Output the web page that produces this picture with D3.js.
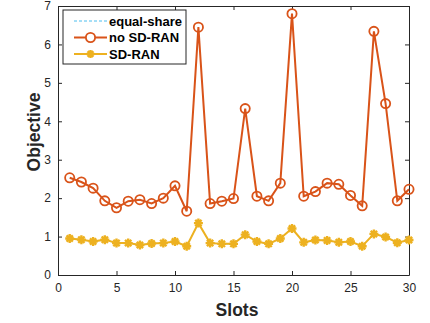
<!DOCTYPE html>
<html>
<head>
<meta charset="utf-8">
<script src="https://cdn.jsdelivr.net/npm/d3@7"></script>
<style>
  body { margin: 0; background: #fff; }
  text { font-family: "Liberation Sans", Arial, sans-serif; }
</style>
</head>
<body>
<div id="chart"></div>
<script>
// Data
const slots = d3.range(1, 31);
const noSdRan = [2.53, 2.42, 2.26, 1.93, 1.75, 1.92, 1.96, 1.86, 2.0, 2.32,
                 1.66, 6.45, 1.86, 1.92, 1.99, 4.33, 2.05, 1.93, 2.39, 6.8,
                 2.05, 2.17, 2.39, 2.36, 2.07, 1.8, 6.34, 4.46, 1.93, 2.23];
const sdRan = [0.95, 0.92, 0.87, 0.92, 0.83, 0.83, 0.78, 0.82, 0.83, 0.87,
               0.75, 1.35, 0.83, 0.81, 0.81, 1.05, 0.87, 0.81, 0.95, 1.21,
               0.85, 0.91, 0.9, 0.85, 0.87, 0.75, 1.07, 0.99, 0.84, 0.91];
const equalShare = sdRan.slice(); // hidden under SD-RAN in the figure
const xTicks = [0, 5, 10, 15, 20, 25, 30];
const yTicks = [0, 1, 2, 3, 4, 5, 6, 7];

const W = 430, H = 323;
const margin = { top: 6, right: 21, bottom: 48, left: 58 };
const width = W - margin.left - margin.right;
const height = H - margin.top - margin.bottom;

const svg = d3.select("#chart").append("svg")
  .attr("width", W).attr("height", H);
const g = svg.append("g")
  .attr("transform", `translate(${margin.left}, ${margin.top})`);

const x = d3.scaleLinear().domain([0, 30]).range([0, width]);
const y = d3.scaleLinear().domain([0, 7]).range([height, 0]);

const axisColor = "#262626";
const fmt = d3.format("d");

// Axes (MATLAB style: ticks inside, box)
const xAxis = g.append("g").attr("transform", `translate(0, ${height})`)
  .call(d3.axisBottom(x).tickValues(xTicks).tickFormat(fmt).tickSizeInner(-4).tickSizeOuter(0).tickPadding(8));
const yAxis = g.append("g")
  .call(d3.axisLeft(y).tickValues(yTicks).tickFormat(fmt).tickSizeInner(-4).tickSizeOuter(0).tickPadding(7));
const xTop = g.append("g")
  .call(d3.axisTop(x).tickValues(xTicks).tickSizeInner(-4).tickSizeOuter(0).tickFormat(""));
const yRight = g.append("g").attr("transform", `translate(${width}, 0)`)
  .call(d3.axisRight(y).tickValues(yTicks).tickSizeInner(-4).tickSizeOuter(0).tickFormat(""));

[xAxis, yAxis, xTop, yRight].forEach(a => {
  a.select(".domain").attr("stroke", axisColor).attr("stroke-width", 1);
  a.selectAll(".tick line").attr("stroke", axisColor);
  a.selectAll("text").attr("fill", axisColor).style("font-size", "12px");
});

// Lines
const line = d3.line().x((d, i) => x(slots[i])).y(d => y(d));

const colNo = "#D95319", colSd = "#EDB120", colEq = "#4DBEEE";

g.append("path").datum(equalShare)
  .attr("d", line).attr("fill", "none")
  .attr("stroke", colEq).attr("stroke-width", 1).attr("stroke-dasharray", "3,2");

g.append("path").datum(noSdRan)
  .attr("d", line).attr("fill", "none")
  .attr("stroke", colNo).attr("stroke-width", 2);

g.selectAll(".circ").data(noSdRan).join("circle")
  .attr("class", "circ")
  .attr("cx", (d, i) => x(slots[i])).attr("cy", d => y(d))
  .attr("r", 4.6).attr("fill", "none")
  .attr("stroke", colNo).attr("stroke-width", 1.8);

g.append("path").datum(sdRan)
  .attr("d", line).attr("fill", "none")
  .attr("stroke", colSd).attr("stroke-width", 2);

// asterisk marker
function star(sel, cx, cy, s) {
  const a = s * 0.7;
  const p = `M${cx - s},${cy}L${cx + s},${cy}M${cx},${cy - s}L${cx},${cy + s}` +
            `M${cx - a},${cy - a}L${cx + a},${cy + a}M${cx - a},${cy + a}L${cx + a},${cy - a}`;
  sel.append("path").attr("d", p).attr("stroke", colSd)
    .attr("stroke-width", 2.4).attr("fill", "none");
}
sdRan.forEach((d, i) => star(g, x(slots[i]), y(d), 4.5));

// Axis labels
svg.append("text")
  .attr("x", 237).attr("y", 316)
  .attr("text-anchor", "middle")
  .style("font-size", "17.5px").style("font-weight", "bold").attr("fill", axisColor)
  .text("Slots");

svg.append("text")
  .attr("transform", `translate(40, 132) rotate(-90)`)
  .attr("text-anchor", "middle")
  .style("font-size", "17.5px").style("font-weight", "bold").attr("fill", axisColor)
  .text("Objective");

// Legend
const legend = svg.append("g");
legend.append("rect")
  .attr("x", 63).attr("y", 10).attr("width", 123).attr("height", 54)
  .attr("fill", "#fff").attr("stroke", axisColor).attr("stroke-width", 1);

const legendData = [
  { label: "equal-share", color: colEq, type: "dash" },
  { label: "no SD-RAN", color: colNo, type: "circle" },
  { label: "SD-RAN", color: colSd, type: "star" }
];
legendData.forEach((d, i) => {
  const ly = 21 + i * 16.5;
  const ln = legend.append("line")
    .attr("x1", 74).attr("x2", 107).attr("y1", ly).attr("y2", ly)
    .attr("stroke", d.color).attr("stroke-width", d.type === "dash" ? 1 : 2);
  if (d.type === "dash") ln.attr("stroke-dasharray", "3,2");
  if (d.type === "circle") {
    legend.append("circle").attr("cx", 90.5).attr("cy", ly).attr("r", 4.6)
      .attr("fill", "#fff").attr("stroke", d.color).attr("stroke-width", 1.8);
  }
  if (d.type === "star") star(legend, 90.5, ly, 4);
  legend.append("text")
    .attr("x", 109).attr("y", ly + 4.5)
    .style("font-size", "13px").style("font-weight", "bold").attr("fill", "#000")
    .text(d.label);
});
</script>
</body>
</html>
